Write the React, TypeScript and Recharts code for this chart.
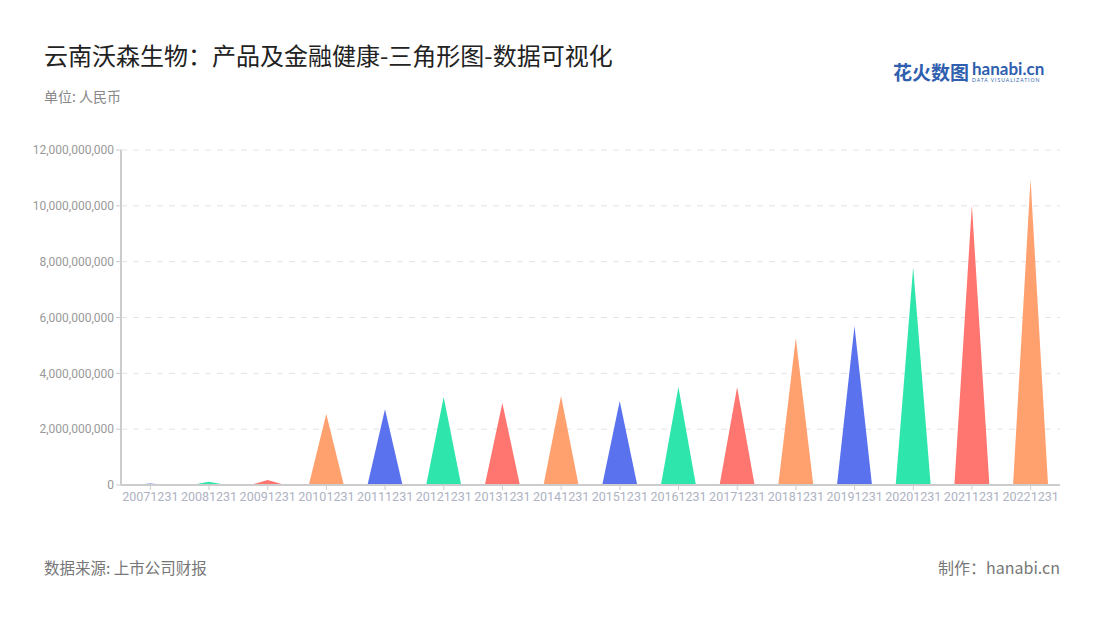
import React from "react";
import { BarChart, Bar, XAxis, YAxis, CartesianGrid, Cell } from "recharts";

const years = [
  "20071231", "20081231", "20091231", "20101231", "20111231", "20121231",
  "20131231", "20141231", "20151231", "20161231", "20171231", "20181231",
  "20191231", "20201231", "20211231", "20221231",
];

// 产品及金融健康 (元)
const values = [
  50000000, 120000000, 180000000, 2540000000, 2710000000, 3150000000,
  2940000000, 3190000000, 3010000000, 3510000000, 3500000000, 5270000000,
  5700000000, 7800000000, 10030000000, 10960000000,
];

const palette = ["#5a72ee", "#2ee6ab", "#ff7570", "#ffa06f"];
const yTicks = [0, 2e9, 4e9, 6e9, 8e9, 10e9, 12e9];

const chartData = years.map((d, i) => ({ date: d, value: values[i] }));

const FONT = "'Noto Sans CJK SC', 'Noto Sans', sans-serif";

function Triangle(props: any) {
  const { x, y, width, height, fill } = props;
  if (!height || height <= 0) return null;
  const d = `M${x},${y + height} L${x + width / 2},${y} L${x + width},${y + height} Z`;
  return <path d={d} fill={fill} />;
}

export default function App() {
  return (
    <div
      style={{
        position: "absolute",
        left: 0,
        top: 0,
        width: 1100,
        height: 620,
        background: "#fff",
        fontFamily: FONT,
        overflow: "hidden",
      }}
    >
      <div style={{ position: "absolute", left: 44, top: 38, fontSize: 24, color: "#222", lineHeight: "34px" }}>
        云南沃森生物：产品及金融健康-三角形图-数据可视化
      </div>
      <div style={{ position: "absolute", left: 44, top: 86, fontSize: 14, color: "#888", lineHeight: "20px" }}>
        单位: 人民币
      </div>

      <div style={{ position: "absolute", left: 893, top: 59, display: "flex", alignItems: "center" }}>
        <span style={{ fontSize: 19, fontWeight: 700, color: "#2f5fae", lineHeight: "26px" }}>花火数图</span>
        <div style={{ marginLeft: 3, display: "flex", flexDirection: "column" }}>
          <span style={{ fontSize: 17, fontWeight: 700, color: "#2f5fae", lineHeight: "16px", fontFamily: "Lato, sans-serif" }}>
            hanabi.cn
          </span>
          <span style={{ fontSize: 5, color: "#2f5fae", lineHeight: "7px", letterSpacing: 1, fontFamily: "Lato, sans-serif" }}>
            DATA VISUALIZATION
          </span>
        </div>
      </div>

      <div style={{ position: "absolute", left: 0, top: 0 }}>
        <BarChart
          width={1100}
          height={540}
          data={chartData}
          margin={{ top: 150, right: 40, bottom: 25, left: 0 }}
          barCategoryGap="20%"
        >
          <CartesianGrid vertical={false} stroke="#e3e3e3" strokeDasharray="6 6" />
          <XAxis
            dataKey="date"
            height={30}
            interval={0}
            axisLine={{ stroke: "#cccccc", strokeWidth: 2 }}
            tickLine={{ stroke: "#cccccc" }}
            tickSize={5}
            tick={{ fill: "#aeb2c2", fontSize: 12.5, fontFamily: "Roboto, sans-serif" }}
          />
          <YAxis
            width={121}
            domain={[0, 12e9]}
            ticks={yTicks}
            interval={0}
            axisLine={{ stroke: "#cccccc", strokeWidth: 2 }}
            tickLine={{ stroke: "#cccccc" }}
            tickSize={5}
            tick={{ fill: "#999999", fontSize: 12, fontFamily: "Roboto, sans-serif" }}
            tickFormatter={(v: number) => v.toLocaleString("en-US")}
          />
          <Bar dataKey="value" shape={<Triangle />} isAnimationActive={false}>
            {chartData.map((_, i) => (
              <Cell key={i} fill={palette[i % palette.length]} />
            ))}
          </Bar>
        </BarChart>
      </div>

      <div style={{ position: "absolute", left: 44, top: 555, fontSize: 15.5, color: "#777", lineHeight: "24px" }}>
        数据来源: 上市公司财报
      </div>
      <div style={{ position: "absolute", right: 40, top: 555, fontSize: 16, color: "#777", lineHeight: "24px" }}>
        制作：hanabi.cn
      </div>
    </div>
  );
}
